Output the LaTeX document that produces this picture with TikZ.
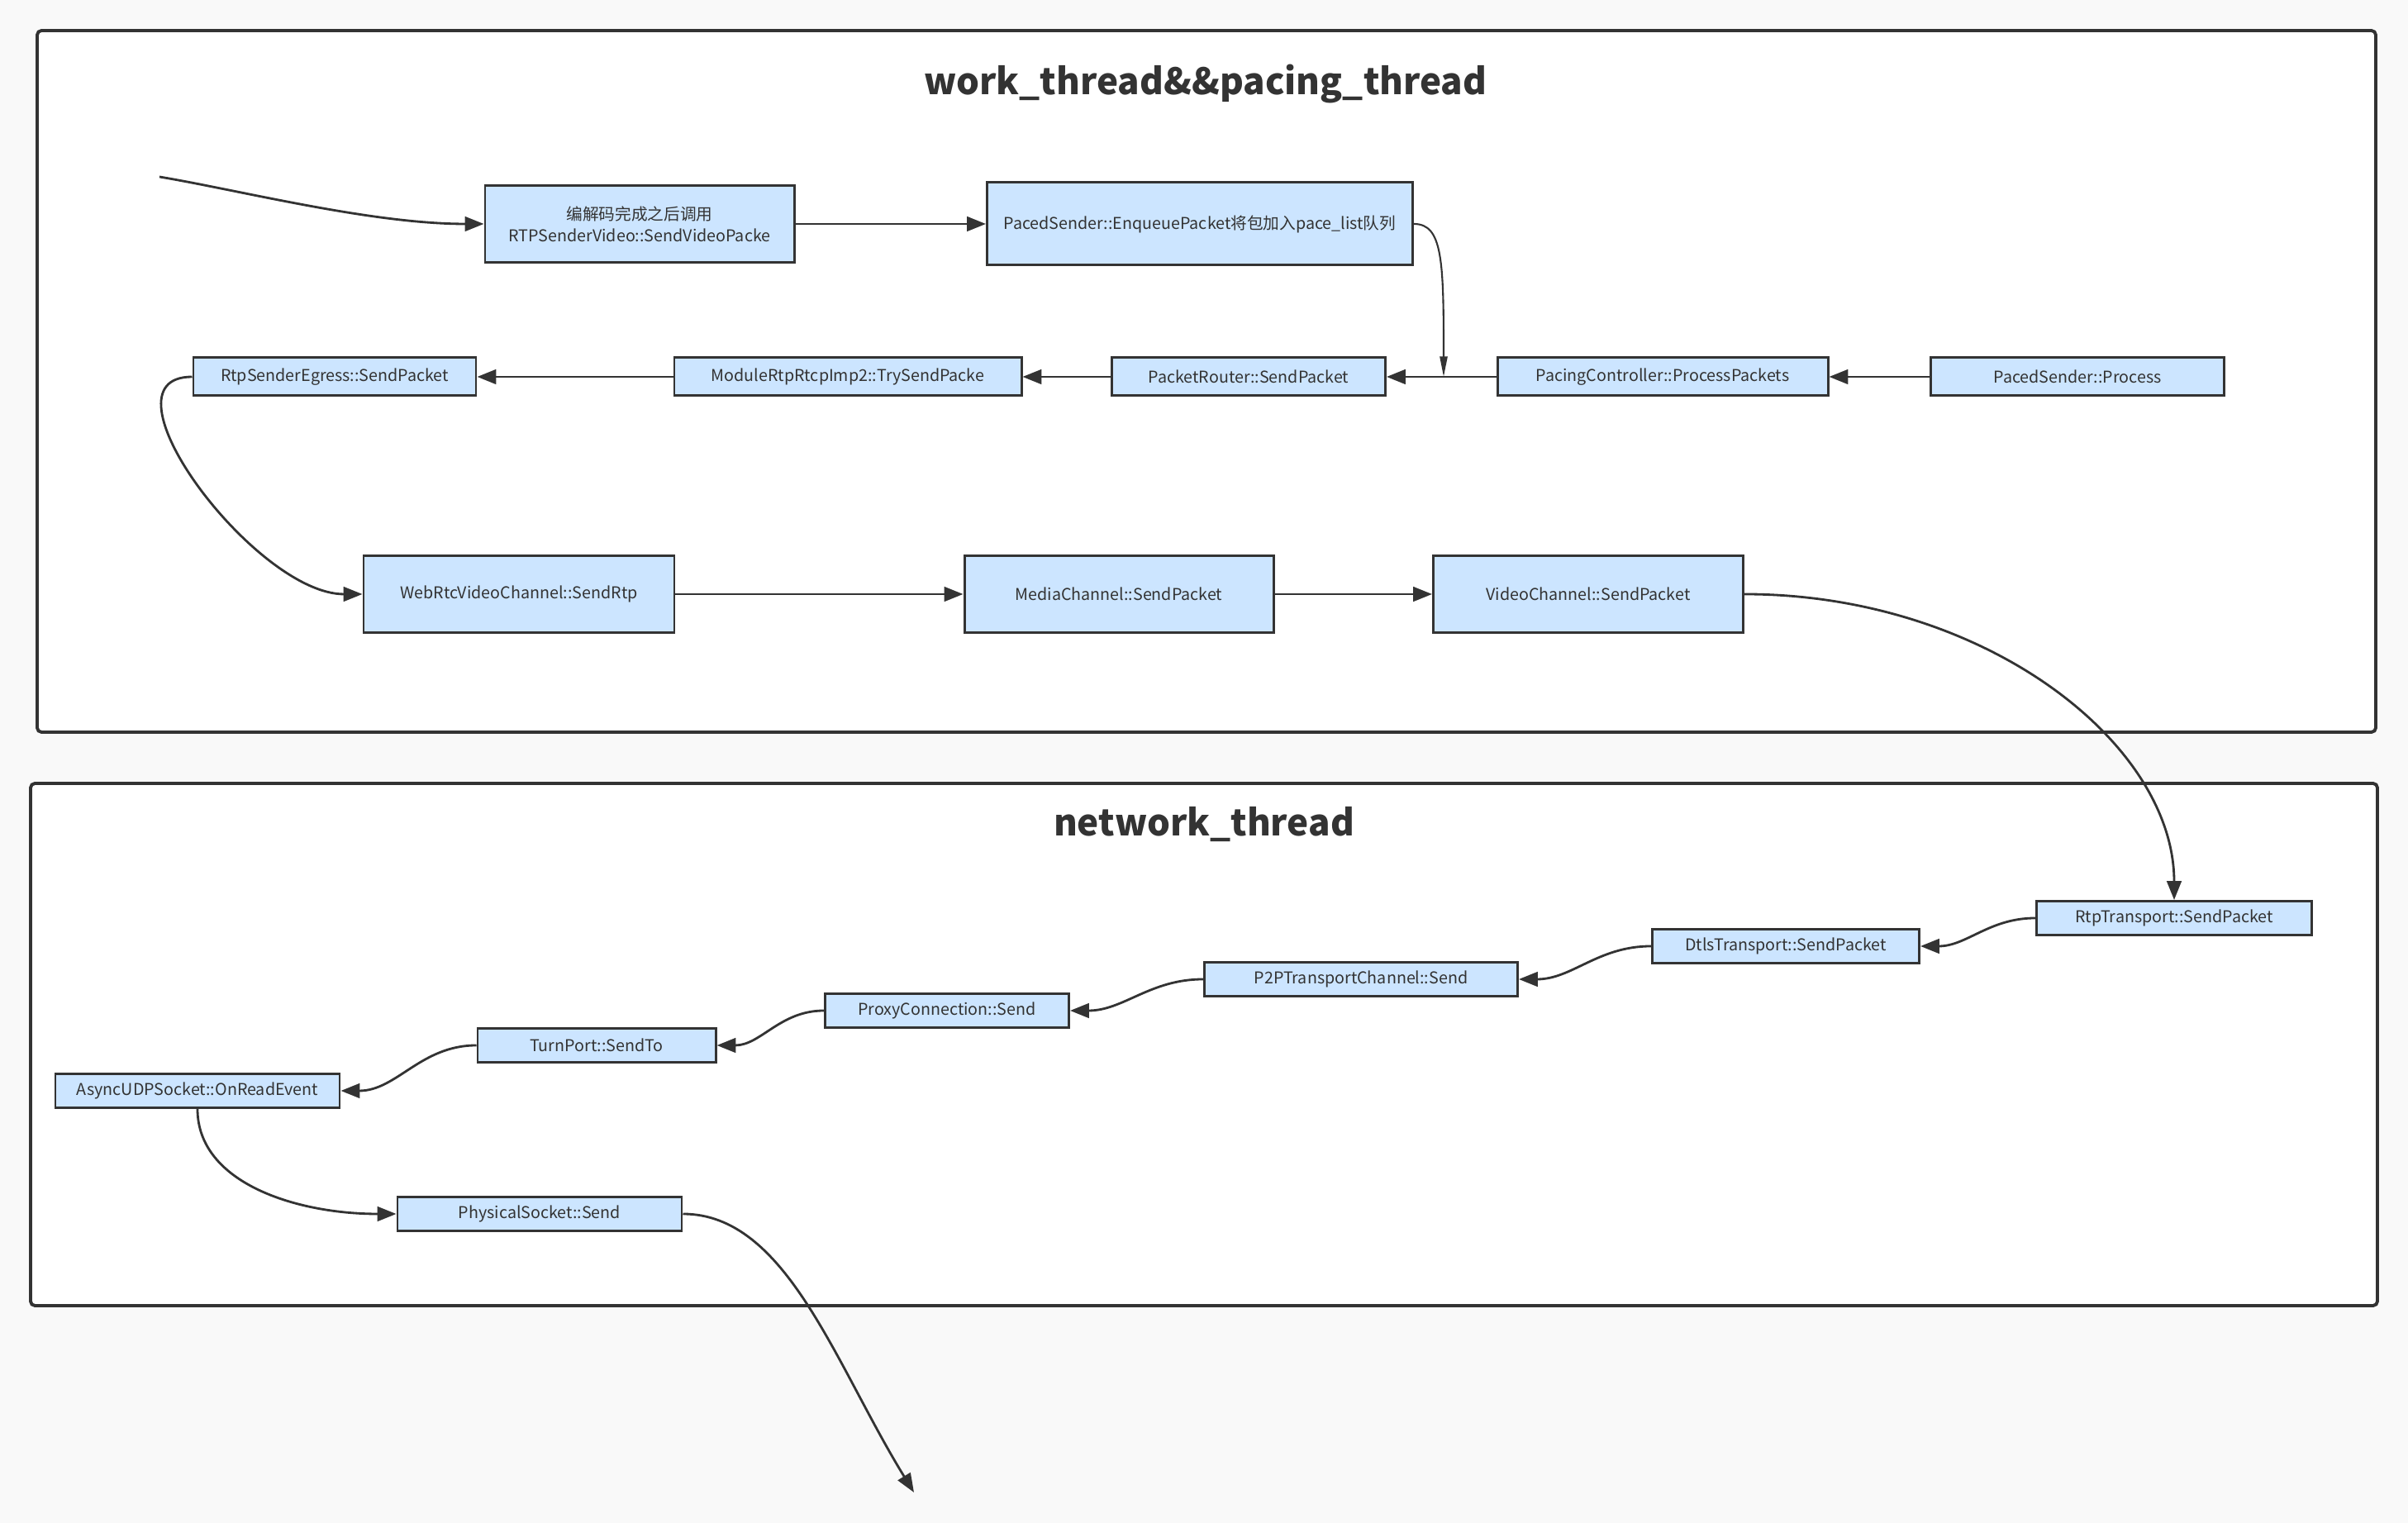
\documentclass[tikz,border=0pt]{standalone}
\usepackage{fontspec}
\setmainfont{Noto Sans CJK SC}
\usetikzlibrary{shapes, arrows.meta, positioning}
\definecolor{ink}{HTML}{333333}
\definecolor{boxblue}{HTML}{CCE5FF}
\definecolor{paper}{HTML}{F9F9F9}
\tikzstyle{thread} = [draw=ink, line width=1.1pt, fill=white, rounded corners=1.5pt]
\tikzstyle{threadname} = [text=ink, font=\bfseries\fontsize{12.5}{15}\selectfont]
\tikzstyle{func} = [rectangle, draw=ink, line width=0.85pt, fill=boxblue, text=ink, inner sep=0pt, align=center, font=\fontsize{5.6}{7.3}\selectfont]
\tikzstyle{big} = [minimum height=0.93cm]
\tikzstyle{small} = [minimum height=0.41cm]
\tikzstyle{call} = [draw=ink, line width=0.8pt, -{Triangle[length=6.5pt, width=5pt]}]
\tikzstyle{thin} = [draw=ink, line width=0.6pt, -{Triangle[length=7pt, width=2.6pt]}]

\begin{document}
\begin{tikzpicture}[x=1cm, y=-1cm]
  \fill[paper] (0,0) rectangle (29.14,18.43);
  \useasboundingbox (0,0) rectangle (29.14,18.43);

  % Threads
  \draw[thread] (0.45,0.37) rectangle (28.75,8.86);
  \draw[thread] (0.37,9.48) rectangle (28.77,15.80);
  \node[threadname] (worktitle) at (14.59,1.02) {work\_thread\&\&pacing\_thread};
  \node[threadname] (nettitle) at (14.57,9.98) {network\_thread};

  % work_thread && pacing_thread
  \coordinate (encoded) at (1.93,2.14);
  \node[func, big, minimum width=3.74cm] (sendvideo) at (7.74,2.71) {编解码完成之后调用\\RTPSenderVideo::SendVideoPacke};
  \node[func, minimum width=5.15cm, minimum height=1.00cm] (enqueue) at (14.52,2.71) {PacedSender::EnqueuePacket将包加入pace\_list队列};

  \node[func, minimum width=3.42cm, minimum height=0.46cm] (egress) at (4.05,4.56) {RtpSenderEgress::SendPacket};
  \node[func, minimum width=4.20cm, minimum height=0.46cm] (rtprtcp) at (10.26,4.56) {ModuleRtpRtcpImp2::TrySendPacke};
  \node[func, minimum width=3.31cm, minimum height=0.46cm] (router) at (15.11,4.56) {PacketRouter::SendPacket};
  \node[func, minimum width=4.00cm, minimum height=0.46cm] (controller) at (20.12,4.56) {PacingController::ProcessPackets};
  \node[func, minimum width=3.55cm, minimum height=0.46cm] (process) at (25.14,4.56) {PacedSender::Process};
  \coordinate (queued) at (17.47,4.56);

  \node[func, big, minimum width=3.76cm] (sendrtp) at (6.28,7.19) {WebRtcVideoChannel::SendRtp};
  \node[func, big, minimum width=3.74cm] (media) at (13.54,7.19) {MediaChannel::SendPacket};
  \node[func, big, minimum width=3.75cm] (video) at (19.22,7.19) {VideoChannel::SendPacket};

  % network_thread
  \node[func, small, minimum width=3.33cm] (rtptransport) at (26.31,11.11) {RtpTransport::SendPacket};
  \node[func, small, minimum width=3.23cm] (dtls) at (21.61,11.45) {DtlsTransport::SendPacket};
  \node[func, small, minimum width=3.79cm] (p2p) at (16.47,11.85) {P2PTransportChannel::Send};
  \node[func, small, minimum width=2.95cm] (proxy) at (11.46,12.23) {ProxyConnection::Send};
  \node[func, small, minimum width=2.88cm] (turn) at (7.22,12.65) {TurnPort::SendTo};
  \node[func, small, minimum width=3.44cm] (asyncudp) at (2.39,13.20) {AsyncUDPSocket::OnReadEvent};
  \node[func, small, minimum width=3.44cm] (physical) at (6.53,14.69) {PhysicalSocket::Send};
  \coordinate (wire) at (11.06,18.06);

  % calls
  \draw[call] (encoded) .. controls +(0.96,0.16) and +(-1.37,0) .. (sendvideo.west);
  \draw[call] (sendvideo) -- (enqueue);
  \draw[thin] (enqueue.east) .. controls +(0.35,0) and +(0,-1.4) .. (queued);
  \draw[call] (process) -- (controller);
  \draw[call] (controller) -- (router);
  \draw[call] (router) -- (rtprtcp);
  \draw[call] (rtprtcp) -- (egress);
  \draw[call] (egress.west) .. controls +(-1.2,0) and +(-1.3,0) .. (sendrtp.west);
  \draw[call] (sendrtp) -- (media);
  \draw[call] (media) -- (video);
  \draw[call] (video.east) .. controls +(2.9,0) and +(0,-1.9) .. (rtptransport.north);

  \draw[call] (rtptransport.west) to[out=180, in=0] (dtls.east);
  \draw[call] (dtls.west) to[out=180, in=0] (p2p.east);
  \draw[call] (p2p.west) to[out=180, in=0] (proxy.east);
  \draw[call] (proxy.west) to[out=180, in=0] (turn.east);
  \draw[call] (turn.west) to[out=180, in=0] (asyncudp.east);
  \draw[call] (asyncudp.south) .. controls +(0,0.9) and +(-1.2,0) .. (physical.west);
  \draw[call] (physical.east) .. controls +(1.25,0) and +(-0.96,-1.56) .. (wire);
\end{tikzpicture}
\end{document}
